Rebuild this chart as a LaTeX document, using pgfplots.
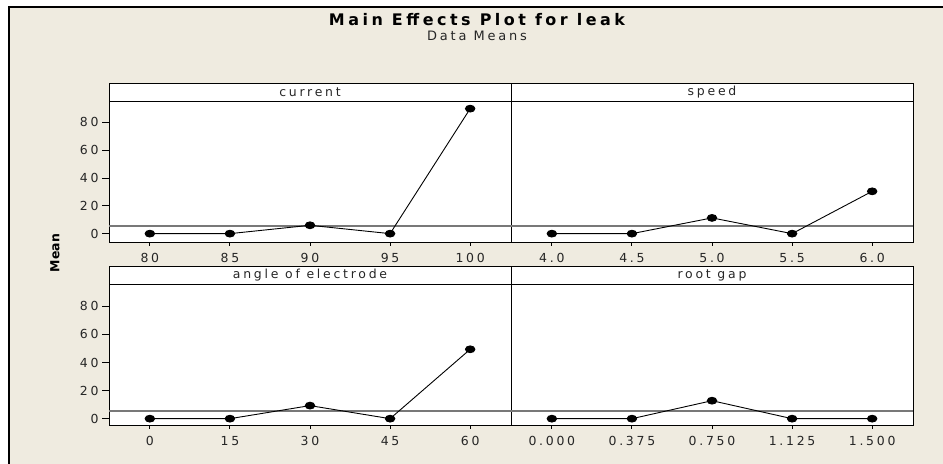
\documentclass[border=0pt]{standalone}
\usepackage{fontspec}
\setmainfont{DejaVu Sans}
\newfontfamily\mf[LetterSpace=22]{DejaVu Sans}
\usepackage{pgfplots}
\pgfplotsset{compat=1.18}
\definecolor{bgbeige}{RGB}{239,235,224}
\definecolor{meangray}{RGB}{120,120,120}
\pgfplotsset{
  panel/.style={
    width=402bp, height=141bp, scale only axis,
    anchor=south west,
    xmin=-0.51, xmax=4.51,
    xtick={0,1,2,3,4},
    axis background/.style={fill=white},
    axis line style={black, line width=0.9bp},
    tick style={black, line width=0.9bp},
    tick align=outside,
    xtick pos=bottom, ytick pos=left,
    major tick length=7bp,
    xtick style={/pgfplots/major tick length=4bp},
    /pgf/number format/assume math mode=true,
    ticklabel style={font=\mf\fontsize{12.5}{14}\selectfont, text=black!85},
    xticklabel style={yshift=-1bp},
    clip=false,
  },
  dataline/.style={black, line width=0.9bp, mark=*, mark size=3.4bp,
    mark options={xscale=1.4, fill=black}},
  meanline/.style={meangray, line width=1.2bp, no marks},
}
\newcommand{\strip}[2]{%
  \draw[fill=white, line width=0.9bp] (#1.north west) rectangle ++(402bp,18bp)
    node[midway, font=\mf\fontsize{12.5}{14}\selectfont, text=black!85] {#2};}
\begin{document}
\begin{tikzpicture}[x=1bp,y=1bp]
\useasboundingbox (0,0) rectangle (943,464);
\fill[white] (0,0) rectangle (943,464);
\fill[bgbeige] (9,0) rectangle (943,457);
\draw[black, line width=1.2bp] (9,0) -- (9,457) -- (943,457);
\node[font=\mf\bfseries\fontsize{16}{18}\selectfont] at (477,444) {Main Effects Plot for leak};
\node[font=\mf\fontsize{13}{15}\selectfont, text=black!85] at (477,428) {Data Means};
\node[font=\bfseries\fontsize{12.5}{14}\selectfont, rotate=90] at (55,211) {Mean};

% top-left: current
\begin{axis}[panel, name=ax1, at={(109bp,222bp)}, ymin=-6, ymax=95.3,
  ytick={0,20,40,60,80}, xticklabels={80,85,90,95,100}]
\addplot[meanline] coordinates {(-0.51,5.5) (4.51,5.5)};
\addplot[dataline] coordinates {(0,0) (1,0) (2,6.0) (3,0) (4,89.8)};
\end{axis}
\strip{ax1}{current}

% top-right: speed
\begin{axis}[panel, name=ax2, at={(511bp,222bp)}, ymin=-6, ymax=95.3,
  ytick=\empty, xticklabels={4.0,4.5,5.0,5.5,6.0}]
\addplot[meanline] coordinates {(-0.51,5.5) (4.51,5.5)};
\addplot[dataline] coordinates {(0,0) (1,0) (2,11.3) (3,0) (4,30.4)};
\end{axis}
\strip{ax2}{speed}

% bottom-left: angle of electrode
\begin{axis}[panel, name=ax3, at={(109bp,39bp)}, ymin=-4.5, ymax=95.9,
  ytick={0,20,40,60,80}, xticklabels={0,15,30,45,60}]
\addplot[meanline] coordinates {(-0.51,5.5) (4.51,5.5)};
\addplot[dataline] coordinates {(0,0) (1,0) (2,9.3) (3,0) (4,49.4)};
\end{axis}
\strip{ax3}{angle of electrode}

% bottom-right: root gap
\begin{axis}[panel, name=ax4, at={(511bp,39bp)}, ymin=-4.5, ymax=95.9,
  ytick=\empty, xticklabels={0.000,0.375,0.750,1.125,1.500}]
\addplot[meanline] coordinates {(-0.51,5.5) (4.51,5.5)};
\addplot[dataline] coordinates {(0,0) (1,0) (2,12.8) (3,0) (4,0)};
\end{axis}
\strip{ax4}{root gap}
\end{tikzpicture}
\end{document}
